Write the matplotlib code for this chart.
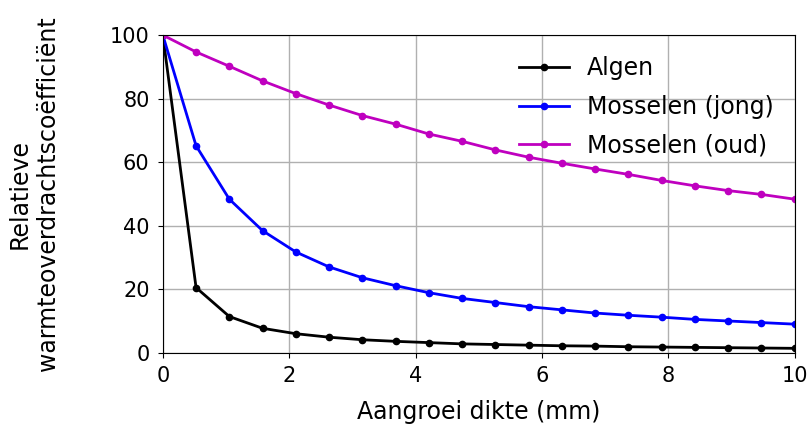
import numpy as np
from matplotlib import pyplot as plt

# aangroei dikte (mm), 20 punten tussen 0 en 10
dikte = np.linspace(0, 10, 20)

algen = [100, 20.6, 11.5, 7.8, 6.1, 5.0, 4.2, 3.7, 3.3, 2.9,
         2.7, 2.5, 2.3, 2.2, 2.0, 1.9, 1.8, 1.7, 1.6, 1.5]
mossel_jong = [100, 65.2, 48.4, 38.5, 31.8, 27.1, 23.7, 21.2, 19.0, 17.2,
               15.9, 14.6, 13.6, 12.6, 11.9, 11.3, 10.6, 10.1, 9.6, 9.1]
mossel_oud = [100, 94.7, 90.2, 85.6, 81.6, 78.0, 74.7, 72.0, 68.9, 66.6,
              63.9, 61.6, 59.7, 57.9, 56.2, 54.3, 52.6, 51.1, 49.9, 48.4]

plt.rcParams['font.size'] = 15

fig = plt.figure(figsize=(8.1, 4.28), dpi=100)
ax = fig.add_axes([0.201, 0.175, 0.78, 0.743])

ax.plot(dikte, algen, color='k', marker='o', markersize=4.5, lw=2, label='Algen')
ax.plot(dikte, mossel_jong, color='b', marker='o', markersize=4.5, lw=2, label='Mosselen (jong)')
ax.plot(dikte, mossel_oud, color='m', marker='o', markersize=4.5, lw=2, label='Mosselen (oud)')

ax.set_xlim(0, 10)
ax.set_ylim(0, 100)
ax.set_xticks([0, 2, 4, 6, 8, 10])
ax.set_yticks([0, 20, 40, 60, 80, 100])
ax.tick_params(labelsize=15, pad=6)
ax.grid(True, color='#b0b0b0', lw=1)
ax.set_axisbelow(True)

ax.set_xlabel('Aangroei dikte (mm)', fontsize=17, labelpad=10)
ax.set_ylabel('Relatieve\nwarmteoverdrachtscoëfficiënt', fontsize=17, labelpad=36)
ax.legend(loc='upper right', frameon=False, fontsize=17,
          labelspacing=0.62, handlelength=2.1, handletextpad=0.76)

plt.savefig('out.png', dpi=100)
